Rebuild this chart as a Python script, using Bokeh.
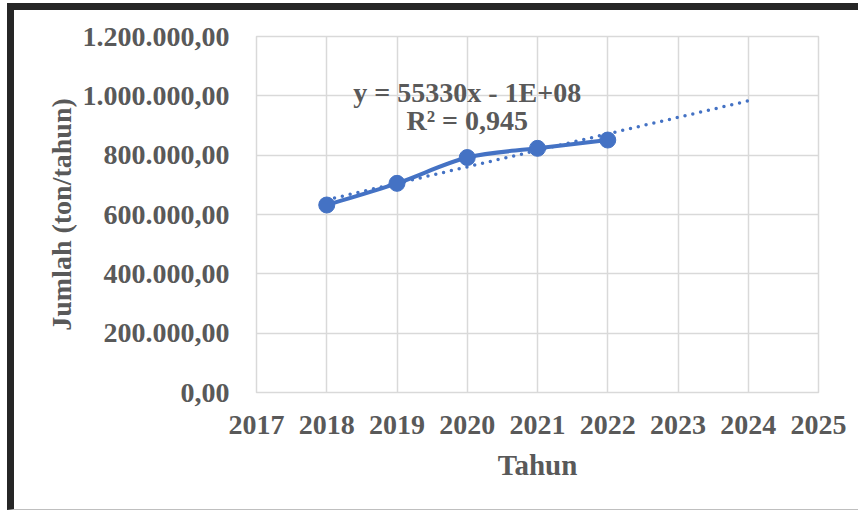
import numpy as np
from bokeh.plotting import figure
from bokeh.models import FixedTicker, Label, ColumnDataSource
from bokeh.embed import file_html
from bokeh.resources import INLINE

years = [2018, 2019, 2020, 2021, 2022]
jumlah = [632000, 705000, 792000, 823000, 851000]
trend_years = [2018, 2024]
x_ticks = [2017, 2018, 2019, 2020, 2021, 2022, 2023, 2024, 2025]
y_ticks = [0, 200000, 400000, 600000, 800000, 1000000, 1200000]
y_tick_labels = ["0,00", "200.000,00", "400.000,00", "600.000,00", "800.000,00",
                 "1.000.000,00", "1.200.000,00"]
eq_text = "y = 55330x - 1E+08"
r2_text = "R\u00b2 = 0,945"

FONT = "Liberation Serif"
GRAY = "#595959"
BLUE = "#4472C4"
GRID = "#d9d9d9"

p = figure(width=851, height=507, output_backend="svg", toolbar_location=None,
           x_range=(2017, 2025), y_range=(0, 1200000),
           min_border_left=242, min_border_right=47, min_border_top=26, min_border_bottom=125)
p.styles = {"border-top": "7px solid #262626", "border-left": "7px solid #262626",
            "border-bottom": "1px solid #bfbfbf",
            "margin-left": "7px", "margin-top": "3px", "overflow": "hidden"}

p.xaxis.ticker = FixedTicker(ticks=x_ticks)
p.yaxis.ticker = FixedTicker(ticks=y_ticks)
p.yaxis.major_label_overrides = {t: l for t, l in zip(y_ticks, y_tick_labels)}
p.xaxis.major_label_overrides = {t: str(t) for t in x_ticks}

for ax in (p.xaxis[0], p.yaxis[0]):
    ax.axis_line_color = None
    ax.major_tick_line_color = None
    ax.minor_tick_line_color = None
    ax.major_label_text_font = FONT
    ax.major_label_text_font_style = "bold"
    ax.major_label_text_font_size = "28px"
    ax.major_label_text_color = GRAY
    ax.axis_label_text_font = FONT
    ax.axis_label_text_font_style = "bold"
    ax.axis_label_text_font_size = "28px"
    ax.axis_label_text_color = GRAY

p.xaxis.axis_label = "Tahun"
p.xaxis.axis_label_text_font_size = "29px"
p.yaxis.axis_label = "Jumlah (ton/tahun)"
p.xaxis.major_label_standoff = 17
p.yaxis.major_label_standoff = 21
p.xaxis.axis_label_standoff = 12
p.yaxis.axis_label_standoff = 3

p.xgrid.grid_line_color = GRID
p.ygrid.grid_line_color = GRID
p.xgrid.grid_line_width = 1.5
p.ygrid.grid_line_width = 1.5
p.outline_line_color = GRID
p.outline_line_width = 1.5

# trendline from least squares fit of the data
coef = np.polyfit(years, jumlah, 1)
trend_vals = [float(np.polyval(coef, t)) for t in trend_years]
p.line(trend_years, trend_vals, line_color=BLUE, line_width=3.5,
       line_dash="0 8", line_cap="round")

# smoothed line (Catmull-Rom style bezier segments through the data points)
xa = np.array(years, dtype=float)
ya = np.array(jumlah, dtype=float)
xp = np.concatenate([[xa[0]], xa, [xa[-1]]])
yp = np.concatenate([[ya[0]], ya, [ya[-1]]])
n = len(xa)
seg = dict(x0=[], y0=[], x1=[], y1=[], cx0=[], cy0=[], cx1=[], cy1=[])
for i in range(n - 1):
    seg["x0"].append(xa[i]); seg["y0"].append(ya[i])
    seg["x1"].append(xa[i + 1]); seg["y1"].append(ya[i + 1])
    seg["cx0"].append(xa[i] + (xp[i + 2] - xp[i]) / 6)
    seg["cy0"].append(ya[i] + (yp[i + 2] - yp[i]) / 6)
    seg["cx1"].append(xa[i + 1] - (xp[i + 3] - xp[i + 1]) / 6)
    seg["cy1"].append(ya[i + 1] - (yp[i + 3] - yp[i + 1]) / 6)
p.bezier(x0="x0", y0="y0", x1="x1", y1="y1", cx0="cx0", cy0="cy0", cx1="cx1", cy1="cy1",
         source=ColumnDataSource(seg), line_color=BLUE, line_width=4, line_cap="round")

src = ColumnDataSource(dict(x=years, y=jumlah))
p.scatter("x", "y", source=src, size=16, fill_color=BLUE, line_color=BLUE)

p.add_layout(Label(x=2020, y=1012000, text=eq_text, text_font=FONT, text_font_style="bold",
                   text_font_size="28px", text_color=GRAY, text_align="center",
                   text_baseline="middle"))
p.add_layout(Label(x=2020, y=917000, text=r2_text, text_font=FONT, text_font_style="bold",
                   text_font_size="28px", text_color=GRAY, text_align="center",
                   text_baseline="middle"))

open("out.html", "w").write(file_html(p, INLINE))
